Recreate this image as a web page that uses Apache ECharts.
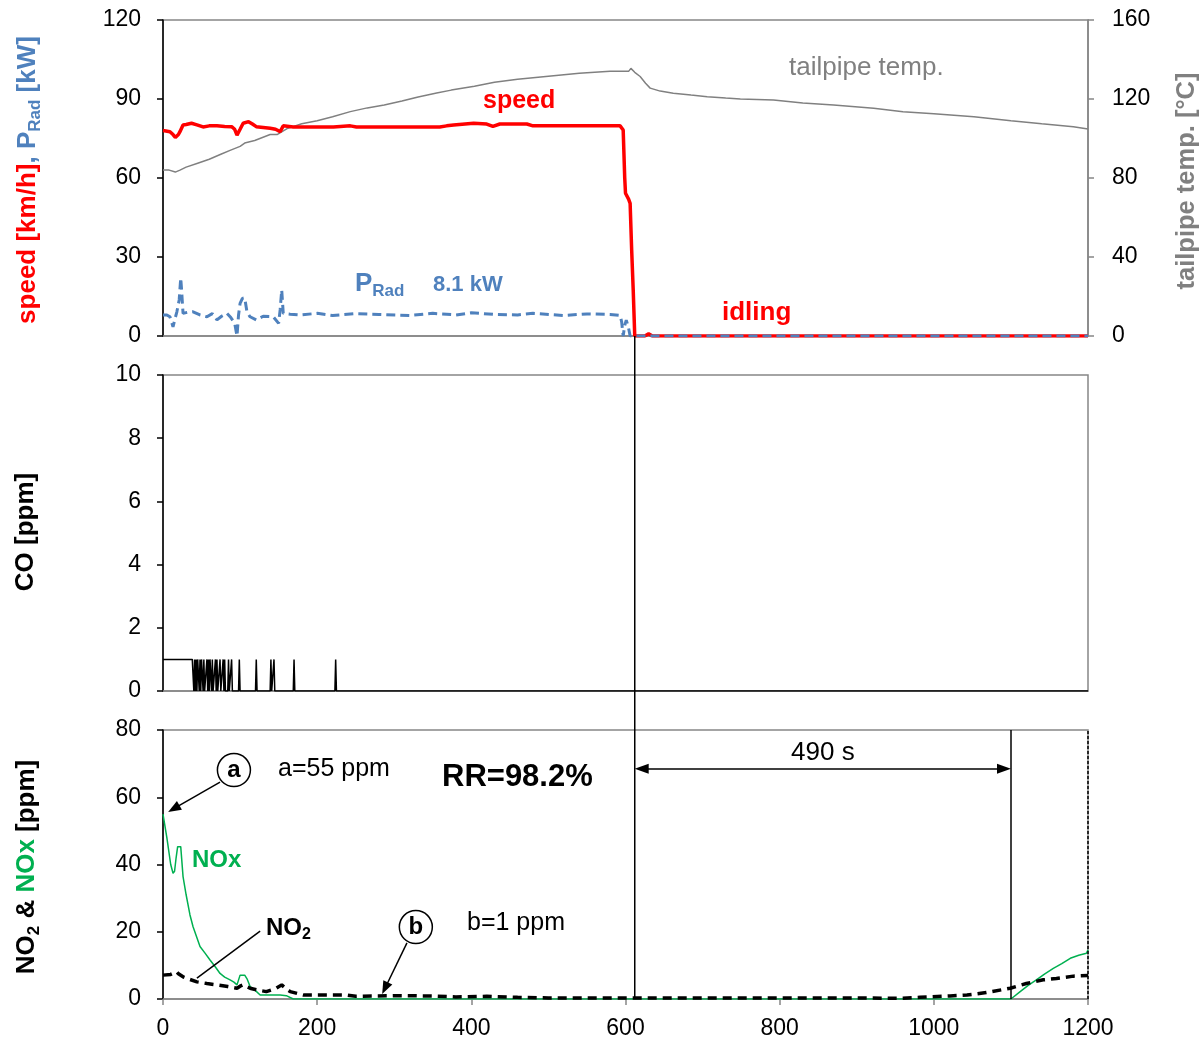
<!DOCTYPE html>
<html>
<head>
<meta charset="utf-8">
<script src="https://cdn.jsdelivr.net/npm/echarts@6/dist/echarts.min.js"></script>
<style>
  html, body { margin: 0; padding: 0; background: #fff; }
  #chart { width: 1203px; height: 1040px; }
</style>
</head>
<body>
<div id="chart"></div>
<script>
  // time [s] vs value
  const speedData = [[0,78],[9,77.6],[13,76.5],[16,75.4],[20,76.5],[22,77.6],[26,80.1],[30,80.3],[37,80.8],[44,80.2],[52,79.4],[60,79.8],[70,79.8],[80,79.6],[89,79.5],[93,78.5],[96,76.3],[100,78.5],[104,80.8],[111,81.4],[116,80.5],[121,79.5],[130,79.2],[139,78.9],[146,78.5],[152,77.6],[156,79.8],[169,79.4],[200,79.4],[221,79.4],[230,79.6],[243,79.8],[251,79.4],[300,79.4],[359,79.4],[368,79.8],[377,80.1],[403,80.8],[420,80.5],[428,79.6],[437,80.5],[472,80.5],[480,79.8],[520,79.8],[593,79.8],[597,78.2],[599,60],[600,54.2],[604,52],[606,50.4],[608,32.7],[610,17.5],[612,0],[625,0],[630,0.8],[635,0],[1200,0]];
  const pradData = [[0,8],[5,8],[9,7.3],[13,3.5],[16,7],[18,9.2],[21,13.7],[23,22],[24,18],[26,8.6],[32,9],[39,9.2],[48,8],[57,7.3],[64,8.5],[70,6.1],[76,7.5],[83,8.6],[88,7],[93,4.8],[96,0],[98,8],[100,12.4],[103,14.3],[106,14.5],[109,9],[113,7.3],[121,6.1],[130,7.5],[143,7.3],[150,4.8],[152,10],[154,17.5],[156,8.6],[165,8.3],[178,8],[200,8.6],[220,7.8],[250,8.5],[280,8.2],[320,7.8],[350,8.6],[380,8],[400,8.8],[430,8.2],[460,8],[480,8.6],[520,7.8],[550,8.4],[580,8.2],[593,7.8],[595,5.4],[597,0],[599,4],[601,6],[604,3],[606,0],[1200,0]];
  const tempData = [[0,84],[8,84],[16,83],[22,84],[30,85.5],[45,87.5],[60,89.5],[75,92],[87,94],[100,96],[106,97.7],[119,99],[139,102],[148,102],[161,105],[180,107.5],[200,109],[220,111],[243,113.6],[265,115.5],[287,117],[310,119],[331,121],[355,123],[374,124.5],[404,126.5],[430,128.5],[460,130],[500,131.5],[540,133],[580,134],[604,134],[607,135.5],[612,133.5],[619,131.4],[626,128],[632,125.5],[645,124],[662,122.9],[685,122],[706,121.2],[730,120.5],[749,120],[792,119.5],[830,118],[870,117],[922,115.3],[960,113.5],[1000,112.5],[1052,111],[1100,109],[1140,107.5],[1181,106],[1200,104.8]];
  const coData = [[0,1],[38,1],[40,0],[41,1],[42,0],[43,1],[44,0],[45,1],[46,1],[47,0],[48,1],[49,0],[50,1],[51,1],[52,0],[53,1],[54,0],[56,0],[57,1],[58,0],[59,1],[60,0],[61,1],[62,1],[63,0],[64,1],[65,0],[67,0],[68,1],[69,0],[70,1],[71,0],[73,0],[74,1],[75,0],[77,0],[78,1],[79,0],[80,1],[81,0],[84,0],[85,1],[86,0],[88,0],[89,1],[90,0],[98,0],[99,1],[100,0],[120,0],[121,1],[122,0],[139,0],[140,1],[141,0],[143,0],[144,1],[145,0],[169,0],[170,1],[171,0],[223,0],[224,1],[225,0],[1200,0]];
  const noxData = [[0,55],[5,48],[10,40],[13,37.4],[15,38],[17,42],[19,45.3],[23,45.3],[26,36.4],[30,31],[35,25],[39,21.5],[48,15.6],[55,13.5],[61,11.6],[68,9.5],[74,7.6],[80,6.5],[87,5.7],[92,5],[96,4.2],[98,4],[100,7.1],[106,7.1],[109,6],[113,3.7],[120,2.5],[126,1.2],[152,1.2],[160,1],[169,0],[1100,0],[1112,2.2],[1122,4],[1133,5.7],[1144,7.5],[1155,9.1],[1166,10.5],[1177,12.1],[1188,13],[1198,13.6],[1200,14.6]];
  const no2Data = [[0,7.1],[10,7.3],[17.7,8.1],[20,7.5],[26,6.6],[35,5.8],[44,5.1],[57,4.6],[70,4.2],[84,3.7],[96,3.2],[100,3.8],[104,4.2],[108,3.7],[113,3.2],[124,2.6],[134,2.2],[142,2.8],[147,3.2],[154,4.2],[160,3],[165,2.2],[175,1.6],[182,1.2],[238,1.2],[250,0.8],[300,1],[350,0.9],[380,0.6],[420,0.8],[460,0.5],[500,0.3],[600,0.3],[700,0.3],[800,0.3],[900,0.3],[956,0.2],[982,0.5],[1021,0.9],[1043,1.2],[1068,1.9],[1099,3.2],[1120,4.6],[1142,5.7],[1159,6.1],[1181,6.8],[1200,7]];

  // annotation anchors (time, ppm) in the NO2/NOx panel
  const cutoffTime = 612;
  const endTime = 1100;
  const circleMarks = [{ name: 'a', coord: [92, 68.1] }, { name: 'b', coord: [328, 21.4] }];

  const FONT = '"Liberation Sans", Arial, sans-serif';
  const GRAY = '#868686';
  const BLUE = '#4f81bd';
  const GREEN = '#00b050';

  const myChart = echarts.init(document.getElementById('chart'));

  function xAxisFor(idx, showLabels) {
    return {
      type: 'value', gridIndex: idx, min: 0, max: 1200, interval: 200,
      axisLine: { lineStyle: { color: GRAY, width: 1.5 } },
      axisTick: { show: showLabels, inside: false, length: 6, lineStyle: { color: GRAY, width: 1.5 } },
      axisLabel: { show: showLabels, fontSize: 23, color: '#000', fontFamily: FONT, margin: 18, formatter: (v) => String(v) },
      splitLine: { show: false },
    };
  }
  function yAxisFor(idx, max, interval) {
    return {
      type: 'value', gridIndex: idx, min: 0, max: max, interval: interval,
      axisLine: { show: true, lineStyle: { color: '#000', width: 1.5 } },
      axisTick: { show: true, inside: false, length: 6, lineStyle: { color: '#000', width: 1.5 } },
      axisLabel: { fontSize: 23, color: '#000', fontFamily: FONT, margin: 22 },
      splitLine: { show: false },
    };
  }
  const gridBox = { left: 163, right: 115, show: true, borderColor: GRAY, borderWidth: 1.5, containLabel: false };

  function label(text, x, y, size, color, weight) {
    return {
      type: 'text', x: x, y: y, z: 50,
      style: { text: text, fontSize: size, fill: color, fontWeight: weight || 'normal', fontFamily: FONT, verticalAlign: 'middle', align: 'left' },
    };
  }
  // rich text token for graphic texts
  function tok(size, color, extra) {
    return Object.assign({ fontSize: size, fontWeight: 'bold', fill: color, color: color, fontFamily: FONT }, extra || {});
  }

  myChart.setOption({
    animation: false,
    textStyle: { fontFamily: FONT },
    grid: [
      Object.assign({ top: 20, height: 316 }, gridBox),
      Object.assign({ top: 375, height: 316 }, gridBox),
      Object.assign({ top: 730, height: 269 }, gridBox),
    ],
    xAxis: [xAxisFor(0, false), xAxisFor(1, false), xAxisFor(2, true)],
    yAxis: [
      yAxisFor(0, 120, 30),
      {
        type: 'value', gridIndex: 0, position: 'right', min: 0, max: 160, interval: 40,
        axisLine: { show: true, lineStyle: { color: GRAY, width: 1.5 } },
        axisTick: { show: true, inside: false, length: 6, lineStyle: { color: GRAY, width: 1.5 } },
        axisLabel: { fontSize: 23, color: '#000', fontFamily: FONT, margin: 24 },
        splitLine: { show: false },
      },
      yAxisFor(1, 10, 2),
      yAxisFor(2, 80, 20),
    ],
    series: [
      {
        name: 'tailpipe temp.', type: 'line', xAxisIndex: 0, yAxisIndex: 1, data: tempData,
        showSymbol: false, lineStyle: { color: '#808080', width: 1.5 },
      },
      {
        name: 'speed', type: 'line', xAxisIndex: 0, yAxisIndex: 0, data: speedData,
        showSymbol: false, lineStyle: { color: '#ff0000', width: 3.5 },
      },
      {
        name: 'PRad', type: 'line', xAxisIndex: 0, yAxisIndex: 0, data: pradData,
        showSymbol: false, lineStyle: { color: BLUE, width: 3, type: [9, 5] },
      },
      {
        name: 'CO', type: 'line', xAxisIndex: 1, yAxisIndex: 2, data: coData,
        showSymbol: false, lineStyle: { color: '#000', width: 1.5 },
      },
      {
        name: 'NOx', type: 'line', xAxisIndex: 2, yAxisIndex: 3, data: noxData,
        showSymbol: false, lineStyle: { color: GREEN, width: 1.5 },
        markLine: {
          silent: true, animation: false, symbol: ['none', 'none'],
          label: { show: false },
          lineStyle: { color: '#000', width: 1.5, type: 'solid' },
          data: [
            { xAxis: endTime },
            { xAxis: 1200, lineStyle: { type: [3, 2], color: '#000' } },
            [
              { coord: [cutoffTime + 9, 68.5], symbol: 'triangle', symbolSize: [10, 14] },
              {
                coord: [endTime - 9, 68.5], symbol: 'triangle', symbolSize: [10, 14],
                label: { show: true, position: 'middle', formatter: '490 s', fontSize: 26, color: '#000', fontFamily: FONT, distance: 3 },
              },
            ],
            [{ coord: [74, 64.5] }, { coord: [14, 56.6], symbol: 'triangle', symbolSize: [10, 13] }],
            [{ coord: [316.5, 16.7] }, { coord: [288, 3.2], symbol: 'triangle', symbolSize: [10, 13] }],
            [{ coord: [126, 20.2] }, { coord: [44, 6.2] }],
          ],
        },
        markPoint: {
          silent: true, symbol: 'circle', symbolSize: 33,
          itemStyle: { color: '#fff', borderColor: '#000', borderWidth: 1.5 },
          label: { show: true, formatter: '{b}', fontSize: 24, fontWeight: 'bold', color: '#000', fontFamily: FONT },
          data: circleMarks,
        },
      },
      {
        name: 'NO2', type: 'line', xAxisIndex: 2, yAxisIndex: 3, data: no2Data,
        showSymbol: false, lineStyle: { color: '#000', width: 3.5, type: [9, 6] },
      },
    ],
    graphic: [
      label('tailpipe temp.', 789, 68, 26, '#808080'),
      label('speed', 483, 101, 25, '#ff0000', 'bold'),
      label('idling', 722, 313, 26, '#ff0000', 'bold'),
      {
        type: 'text', x: 355, y: 284, z: 50,
        style: {
          text: '{p|P}{s|Rad}', verticalAlign: 'middle', align: 'left',
          rich: {
            p: tok(26, BLUE, { lineHeight: 32 }),
            s: tok(17, BLUE, { verticalAlign: 'bottom' }),
          },
        },
      },
      label('8.1 kW', 433, 285, 22, BLUE, 'bold'),
      label('a=55 ppm', 278, 769, 25, '#000'),
      label('RR=98.2%', 442, 777, 31, '#000', 'bold'),
      label('NOx', 192, 860, 24, GREEN, 'bold'),
      {
        type: 'text', x: 266, y: 928, z: 50,
        style: {
          text: '{p|NO}{s|2}', verticalAlign: 'middle', align: 'left',
          rich: {
            p: tok(24, '#000', { lineHeight: 30 }),
            s: tok(16, '#000', { verticalAlign: 'bottom' }),
          },
        },
      },
      label('b=1 ppm', 467, 923, 25, '#000'),
      // axis titles
      {
        type: 'text', x: 28, y: 180, rotation: Math.PI / 2, z: 50,
        style: {
          text: '{r|speed [km/h]}{b|, P}{bs|Rad}{b| [kW]}', align: 'center', verticalAlign: 'middle',
          rich: {
            r: tok(26, '#ff0000', { lineHeight: 32 }),
            b: tok(26, BLUE, { lineHeight: 32 }),
            bs: tok(17, BLUE, { verticalAlign: 'bottom' }),
          },
        },
      },
      {
        type: 'text', x: 26, y: 532, rotation: Math.PI / 2, z: 50,
        style: { text: 'CO [ppm]', align: 'center', verticalAlign: 'middle', fontSize: 26, fontWeight: 'bold', fill: '#000', fontFamily: FONT },
      },
      {
        type: 'text', x: 27, y: 867, rotation: Math.PI / 2, z: 50,
        style: {
          text: '{k|NO}{ks|2}{k| & }{g|NOx}{k| [ppm]}', align: 'center', verticalAlign: 'middle',
          rich: {
            k: tok(26, '#000', { lineHeight: 32 }),
            ks: tok(17, '#000', { verticalAlign: 'bottom' }),
            g: tok(26, GREEN, { lineHeight: 32 }),
          },
        },
      },
      {
        type: 'text', x: 1187, y: 181, rotation: Math.PI / 2, z: 50,
        style: { text: 'tailpipe temp. [°C]', align: 'center', verticalAlign: 'middle', fontSize: 25.5, fontWeight: 'bold', fill: '#808080', fontFamily: FONT },
      },
    ],
  });

  // the cut-off line runs through all three panels
  const cutX = myChart.convertToPixel({ xAxisIndex: 0 }, cutoffTime);
  const topY = myChart.convertToPixel({ yAxisIndex: 0 }, 0);
  const botY = myChart.convertToPixel({ yAxisIndex: 3 }, 0);
  myChart.setOption({
    graphic: [{
      id: 'cutoff', type: 'line', z: 40,
      shape: { x1: cutX, y1: topY, x2: cutX, y2: botY },
      style: { stroke: '#000', lineWidth: 1.5 },
    }],
  });
</script>
</body>
</html>
